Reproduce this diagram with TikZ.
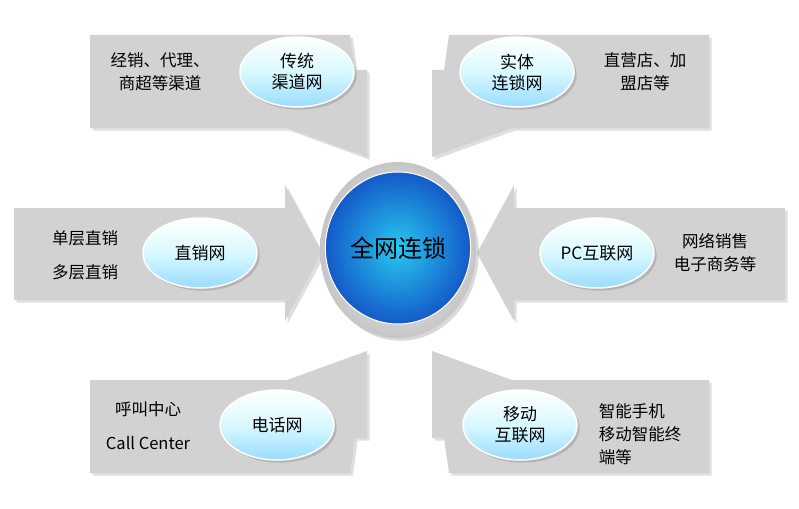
\documentclass[tikz,border=0pt]{standalone}
\usepackage{fontspec}
\setmainfont{Noto Sans CJK SC}
\usetikzlibrary{shadows,shapes.geometric}
\definecolor{cyanc}{RGB}{40,200,240}
\definecolor{blueo}{RGB}{20,90,200}
\begin{document}
\begin{tikzpicture}[x=1pt,y=-1pt,
  arrowbox/.style={fill=gray!35, draw=none, drop shadow={opacity=0.25}},
  bub/.style={ellipse, minimum width=114, minimum height=70, inner sep=0pt, draw=white, line width=1.5pt,
    top color=white, bottom color=blue!35!cyan!40!white, middle color=blue!15!cyan!15, drop shadow={opacity=0.35},
    font=\fontsize{17}{21}\selectfont, align=center},
  lab/.style={font=\fontsize{16.5}{23}\selectfont, align=center}]
\useasboundingbox (0,0) rectangle (799,508);
% arrows
\fill[arrowbox] (90,35) -- (350,35) -- (355,70) -- (367,70) -- (367,157) -- (287,128) -- (90,128) -- cycle;
\fill[arrowbox] (709,35) -- (449,35) -- (444,70) -- (432,70) -- (432,157) -- (512,128) -- (709,128) -- cycle;
\fill[arrowbox] (90,473) -- (350,473) -- (355,438) -- (367,438) -- (367,351) -- (287,380) -- (90,380) -- cycle;
\fill[arrowbox] (709,473) -- (449,473) -- (444,438) -- (432,438) -- (432,351) -- (512,380) -- (709,380) -- cycle;
\fill[arrowbox] (14,208) -- (285,208) -- (285,185) -- (322,253) -- (285,321) -- (285,300) -- (14,300) -- cycle;
\fill[arrowbox] (785,208) -- (514,208) -- (514,185) -- (477,253) -- (514,321) -- (514,300) -- (785,300) -- cycle;
% center
\node[ellipse, minimum width=156, minimum height=176, inner color=white, outer color=gray!45, drop shadow={opacity=0.3}] (ring) at (398,250) {};
\node[ellipse, minimum width=134, minimum height=152, inner color=cyanc, outer color=blueo, draw=white, line width=1pt,
  font=\fontsize{24}{28}\selectfont, text=black] (center) at (398,248) {全网连锁};
% bubbles
\node[bub] (b1) at (297,72) {传统\\渠道网};
\node[bub] (b2) at (517,72) {实体\\连锁网};
\node[bub] (b3) at (200,253) {直销网};
\node[bub] (b4) at (597,253) {PC互联网};
\node[bub] (b5) at (277,425) {电话网};
\node[bub] (b6) at (520,425) {移动\\互联网};
% labels
\node[lab] (t1) at (160,72) {经销、代理、\\商超等渠道};
\node[lab] (t2) at (645,72) {直营店、加\\盟店等};
\node[lab, font=\fontsize{16.5}{34}\selectfont] (t3) at (85,255) {单层直销\\多层直销};
\node[lab] (t4) at (715,253) {网络销售\\电子商务等};
\node[lab, font=\fontsize{16.5}{34}\selectfont] (t5) at (148,426) {呼叫中心\\Call Center};
\node[lab, align=left] (t6) at (640,434) {智能手机\\移动智能终\\端等};
\end{tikzpicture}
\end{document}
